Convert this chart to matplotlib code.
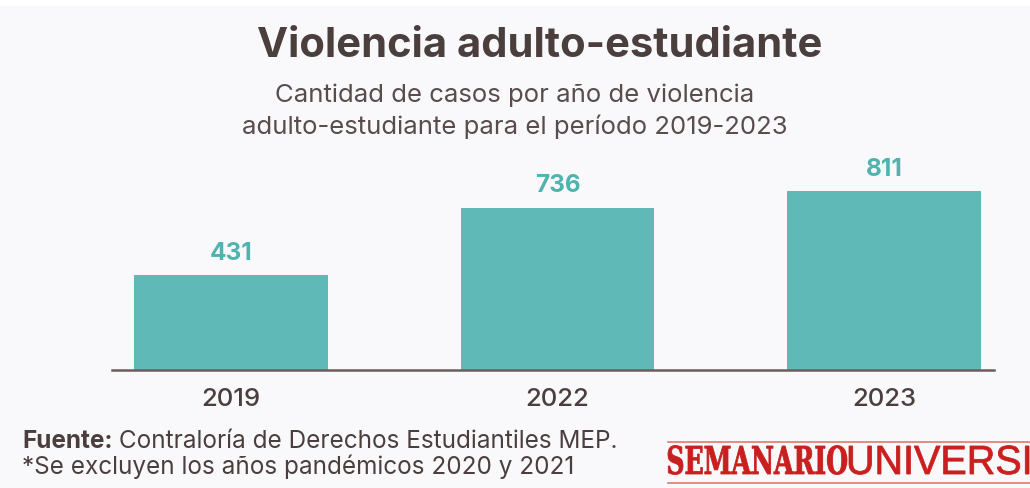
import matplotlib
matplotlib.use("Agg")
import matplotlib.pyplot as plt
from matplotlib.textpath import TextPath
from matplotlib.patches import PathPatch, Rectangle
from matplotlib.font_manager import FontProperties
from matplotlib.transforms import Affine2D
from matplotlib.lines import Line2D

years = ["2019", "2022", "2023"]
cases = [431, 736, 811]

title = "Violencia adulto-estudiante"
subtitle = ["Cantidad de casos por año de violencia",
            "adulto-estudiante para el período 2019-2023"]
source_bold = "Fuente:"
source_rest = " Contraloría de Derechos Estudiantiles MEP."
note = "*Se excluyen los años pandémicos 2020 y 2021"

BG = "#f9f9fc"
BAR = "#5fb9b7"
TEAL = "#4fb3ae"
DARK = "#4b3f3d"
SUB = "#584d4a"
RED = "#c9201f"
W, H = 1030, 489

plt.rcParams["font.family"] = ["Inter", "DejaVu Sans"]

fig = plt.figure(figsize=(W / 100, H / 100), dpi=100, facecolor=BG)
fig.add_artist(Rectangle((0, 1 - 7 / H), 1, 7 / H, transform=fig.transFigure,
                         fc="white", ec="none"))

# bar area, baseline at y=371 px
ax = fig.add_axes([112 / W, 1 - 371 / H, (994 - 112) / W, 220 / H])
ax.set_facecolor("none")
x = range(len(years))
bars = ax.bar(x, cases, width=0.594, color=BAR)
ax.bar_label(bars, padding=8, fontsize=17.5, fontweight="bold", color=TEAL)
ax.set_xlim(-0.3645, 2.337)
ax.set_ylim(0, 997)
ax.set_xticks(list(x), years)
ax.set_yticks([])
ax.tick_params(axis="x", length=0, pad=12, labelsize=18.5)
for lab in ax.get_xticklabels():
    lab.set_color(DARK)
    lab.set_fontweight("medium")
for s in ["top", "left", "right"]:
    ax.spines[s].set_visible(False)
ax.spines["bottom"].set_color("#6a5e5b")
ax.spines["bottom"].set_linewidth(1.8)

fig.text(540 / W, 1 - 57 / H, title, ha="center", va="baseline",
         fontsize=30, fontweight="bold", color=DARK)
for line, yb in zip(subtitle, [102, 134]):
    fig.text(515 / W, 1 - yb / H, line, ha="center", va="baseline",
             fontsize=18.5, color=SUB)

t = fig.text(22 / W, 1 - 448 / H, source_bold, ha="left", va="baseline",
             fontsize=17.5, fontweight="bold", color=DARK)
fig.canvas.draw()
bb = t.get_window_extent()
fig.text(bb.x1 / W, 1 - 448 / H, source_rest, ha="left", va="baseline",
         fontsize=17.5, color=DARK)
fig.text(22 / W, 1 - 474 / H, note, ha="left", va="baseline",
         fontsize=17.5, color=DARK)


# newspaper logo, squeezed text drawn as paths in pixel coords
def logo_word(text, ref, prop, left, bottom, cap_h, ref_w):
    ext = TextPath((0, 0), ref, size=1, prop=prop).get_extents()
    cap = TextPath((0, 0), "H", size=1, prop=prop).get_extents().height
    path = TextPath((0, 0), text, size=1, prop=prop)
    tr = Affine2D().translate(-ext.x0, 0).scale(ref_w / ext.width, cap_h / cap)
    tr = tr.translate(left, bottom)
    fig.add_artist(PathPatch(path, transform=tr, fc=RED, ec=RED, lw=0.6))


logo_word("SEMANARIO", "SEMANARIO",
          FontProperties(family="DejaVu Serif", weight="bold"),
          668, H - 475, 28, 179)
logo_word("UNIVERSIDAD", "UNIVERSI",
          FontProperties(family="Liberation Sans"),
          849, H - 475, 28, 180)
for yy in [443, 484]:
    fig.add_artist(Line2D([668 / W, 1], [1 - yy / H] * 2, transform=fig.transFigure,
                          color="#e07a6c", lw=1.2))

fig.savefig("out.png", dpi=100, facecolor=BG)
